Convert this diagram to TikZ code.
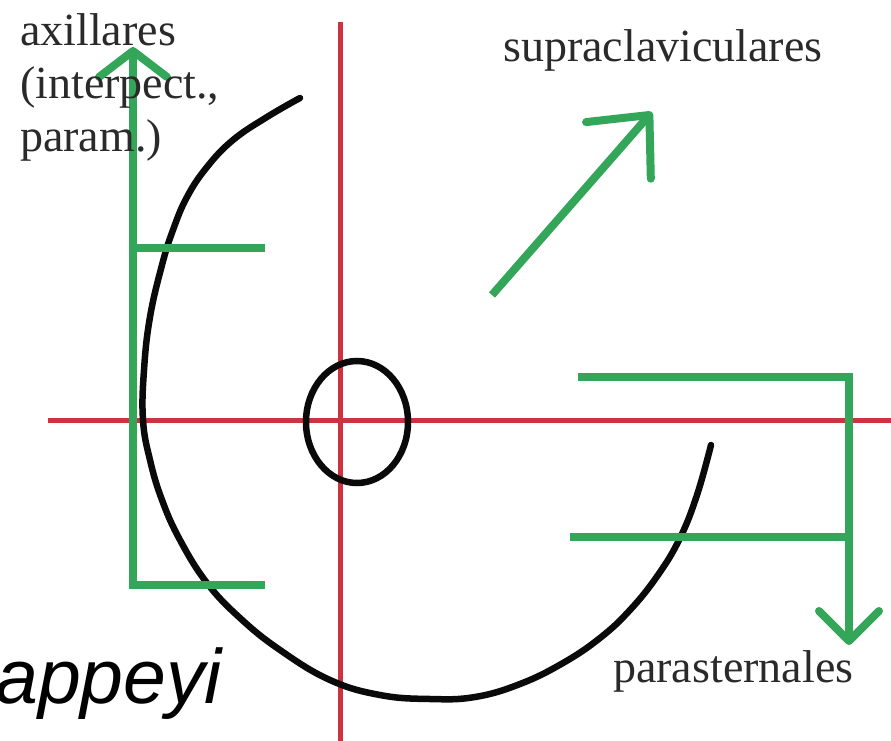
\documentclass[tikz,border=0pt]{standalone}
\usepackage{fontspec}
\setmainfont{Liberation Serif}
\newfontfamily\sketchsans{Liberation Sans}
\usetikzlibrary{arrows.meta}
\definecolor{axisred}{HTML}{CC3340}
\definecolor{leadgreen}{HTML}{33A65A}
\definecolor{contourblack}{HTML}{0A0A0A}
\definecolor{labeltext}{HTML}{2A2A2A}
\tikzset{
  axisline/.style={draw=axisred, line width=5pt},
  leadline/.style={draw=leadgreen, line width=8pt},
  contour/.style={draw=contourblack, line width=6.5pt, line cap=round},
  lbl/.style={font=\fontsize{46}{53}\selectfont, text=labeltext, inner sep=0pt, align=left},
  wmark/.style={font=\sketchsans\itshape\fontsize{77}{80}\selectfont, inner sep=0pt}
}
\newcommand{\drawContour}{%
  \draw[contour] plot[smooth, tension=0.7] coordinates {
    (300,98) (267,117) (233,140) (207,167) (187,197) (173,230) (162,265)
    (150,317) (144,370) (143,420) (150,460) (162,500) (180,540) (207,583)
    (240,618) (280,650) (330,680) (380,695) (430,699) (475,697) (520,684)
    (563,663) (600,638) (630,610) (658,575) (680,538) (697,495) (711,445)};
  \draw[contour] (357,422) ellipse [x radius=51, y radius=61];
}

\begin{document}
\begin{tikzpicture}[x=1pt, y=-1pt]
  \fill[white] (0,0) rectangle (891,741);
  \useasboundingbox (0,0) rectangle (891,741);

  % axes
  \coordinate (vTop) at (340,22);
  \coordinate (vBot) at (340,745);
  \coordinate (hLeft) at (48,420);
  \coordinate (hRight) at (895,420);
  \draw[axisline] (vTop) -- (vBot);
  \draw[axisline] (hLeft) -- (hRight);

  \drawContour

  % axillares
  \coordinate (axFoot) at (265,585);
  \coordinate (axCorner) at (133,585);
  \coordinate (axTip) at (133,47);
  \coordinate (axMidL) at (133,248);
  \coordinate (axMidR) at (265,248);
  \draw[leadline, -{Straight Barb[round, length=26pt, width=68pt]}] (axFoot) -- (axCorner) -- (axTip);
  \draw[leadline] (axMidL) -- (axMidR);

  % supraclaviculares
  \coordinate (supFoot) at (492,295);
  \coordinate (supTip) at (652,112);
  \draw[leadline, -{Straight Barb[round, length=47pt, width=86pt]}] (supFoot) -- (supTip);

  % parasternales
  \coordinate (parTop) at (578,377);
  \coordinate (parCorner) at (849,377);
  \coordinate (parTip) at (849,645);
  \coordinate (parLowL) at (570,537);
  \coordinate (parLowR) at (849,537);
  \draw[leadline, -{Straight Barb[round, length=30pt, width=60pt]}] (parTop) -- (parCorner) -- (parTip);
  \draw[leadline] (parLowL) -- (parLowR);

  % labels
  \node[lbl, anchor=north west] (axl) at (20,13) {axillares\\(interpect.,\\param.)};
  \node[lbl, anchor=base west] (sup) at (503,62) {supraclaviculares};
  \node[lbl, anchor=base west] (par) at (613,682) {parasternales};
  \node[wmark, anchor=base west] (mark) at (-5,703) {appeyi};
\end{tikzpicture}
\end{document}
